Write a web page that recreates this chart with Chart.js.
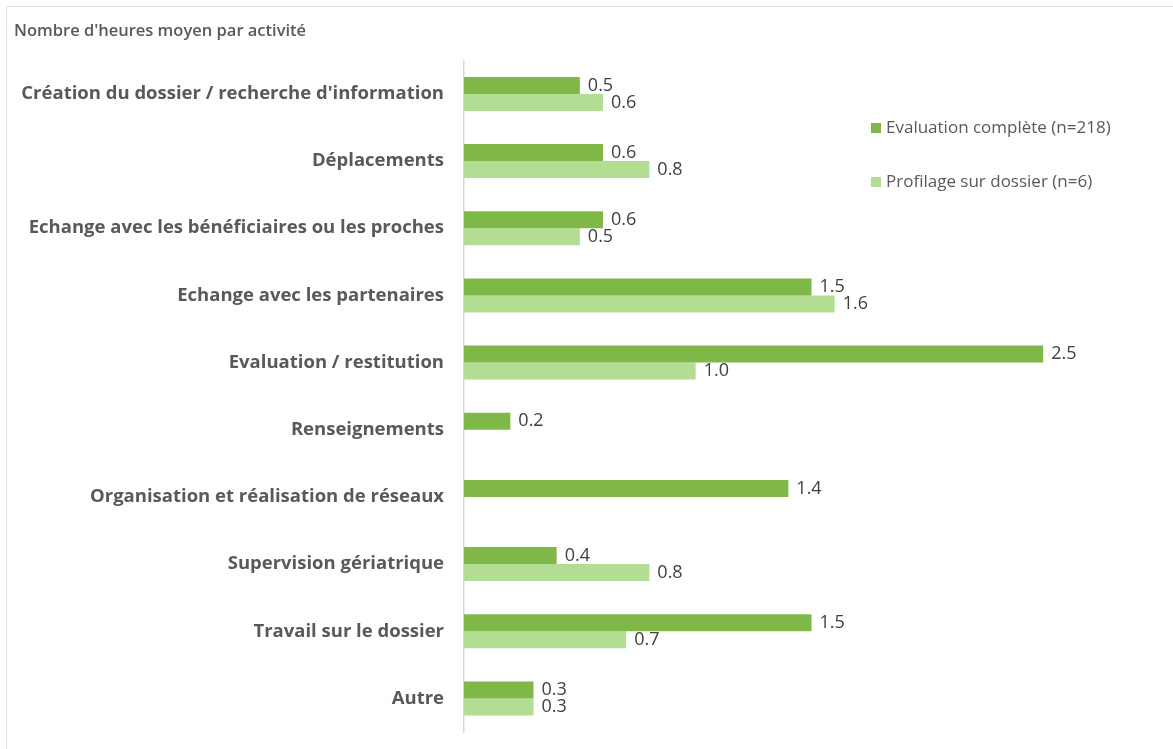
<!DOCTYPE html>
<html lang="fr">
<head>
<meta charset="utf-8">
<title>Nombre d'heures moyen par activité</title>
<script src="https://cdn.jsdelivr.net/npm/chart.js@4.4.1/dist/chart.umd.min.js"></script>
<style>
  html, body { margin: 0; padding: 0; background: #fff; overflow: hidden; }
  .frame {
    position: absolute; left: 6px; top: 6px; right: 0; bottom: 0;
    border-top: 1.5px solid #e3e3e3; border-left: 1.5px solid #e3e3e3;
  }
  #heures { position: absolute; left: 0; top: 0; }
</style>
</head>
<body>
<div class="frame"></div>
<canvas id="heures" width="1173" height="749"></canvas>
<script>
const activites = [
  "Création du dossier / recherche d'information",
  "Déplacements",
  "Echange avec les bénéficiaires ou les proches",
  "Echange avec les partenaires",
  "Evaluation / restitution",
  "Renseignements",
  "Organisation et réalisation de réseaux",
  "Supervision gériatrique",
  "Travail sur le dossier",
  "Autre"
];
const evaluationComplete = [0.5, 0.6, 0.6, 1.5, 2.5, 0.2, 1.4, 0.4, 1.5, 0.3];
const profilageDossier = [0.6, 0.8, 0.5, 1.6, 1.0, null, null, 0.8, 0.7, 0.3];
const serieNoms = ["Evaluation complète (n=218)", "Profilage sur dossier (n=6)"];
const couleurs = ["#80b847", "#b3dd93"];

// value written just past the end of each bar
const valeurs = {
  id: "valeurs",
  afterDatasetsDraw(chart) {
    const ctx = chart.ctx;
    ctx.save();
    ctx.font = "18px 'Open Sans'";
    ctx.fillStyle = "#404040";
    ctx.textAlign = "left";
    ctx.textBaseline = "middle";
    chart.data.datasets.forEach((ds, i) => {
      chart.getDatasetMeta(i).data.forEach((bar, j) => {
        const v = ds.data[j];
        if (v === null || v === undefined) return;
        ctx.fillText(v.toFixed(1), bar.x + 8, bar.y);
      });
    });
    ctx.restore();
  }
};

// legend sitting inside the plot, on the right
const legende = {
  id: "legende",
  afterDraw(chart) {
    const ctx = chart.ctx;
    ctx.save();
    ctx.font = "17px 'Open Sans'";
    ctx.textBaseline = "alphabetic";
    chart.data.datasets.forEach((ds, i) => {
      const base = 133 + i * 54;
      ctx.fillStyle = ds.backgroundColor;
      ctx.fillRect(871, base - 10, 10, 10);
      ctx.fillStyle = "#595959";
      ctx.fillText(ds.label, 886, base);
    });
    ctx.restore();
  }
};

new Chart(document.getElementById("heures"), {
  type: "bar",
  data: {
    labels: activites,
    datasets: [
      { label: serieNoms[0], data: evaluationComplete, backgroundColor: couleurs[0] },
      { label: serieNoms[1], data: profilageDossier, backgroundColor: couleurs[1] }
    ]
  },
  options: {
    indexAxis: "y",
    responsive: false,
    animation: false,
    devicePixelRatio: 1,
    layout: { padding: { left: 14, right: 14, top: 0, bottom: 17 } },
    datasets: {
      bar: { categoryPercentage: 0.506, barPercentage: 1, borderWidth: 0 }
    },
    scales: {
      x: { display: false, min: 0, max: 3 },
      y: {
        afterFit(scale) {
          scale.width = 450;
          scale.paddingTop = 0;
          scale.paddingBottom = 0;
        },
        grid: { display: false, drawTicks: false },
        border: { display: true, color: "#d9d9d9", width: 1.5 },
        ticks: {
          padding: 20,
          color: "#595959",
          font: { family: "Open Sans", size: 18.5, weight: "bold" }
        }
      }
    },
    plugins: {
      legend: { display: false },
      tooltip: { enabled: false },
      title: {
        display: true,
        text: "Nombre d'heures moyen par activité",
        align: "start",
        color: "#595959",
        font: { family: "Open Sans", size: 16.5, weight: "600", lineHeight: 1.2 },
        padding: { top: 21.5, bottom: 19 }
      }
    }
  },
  plugins: [valeurs, legende]
});
</script>
</body>
</html>
